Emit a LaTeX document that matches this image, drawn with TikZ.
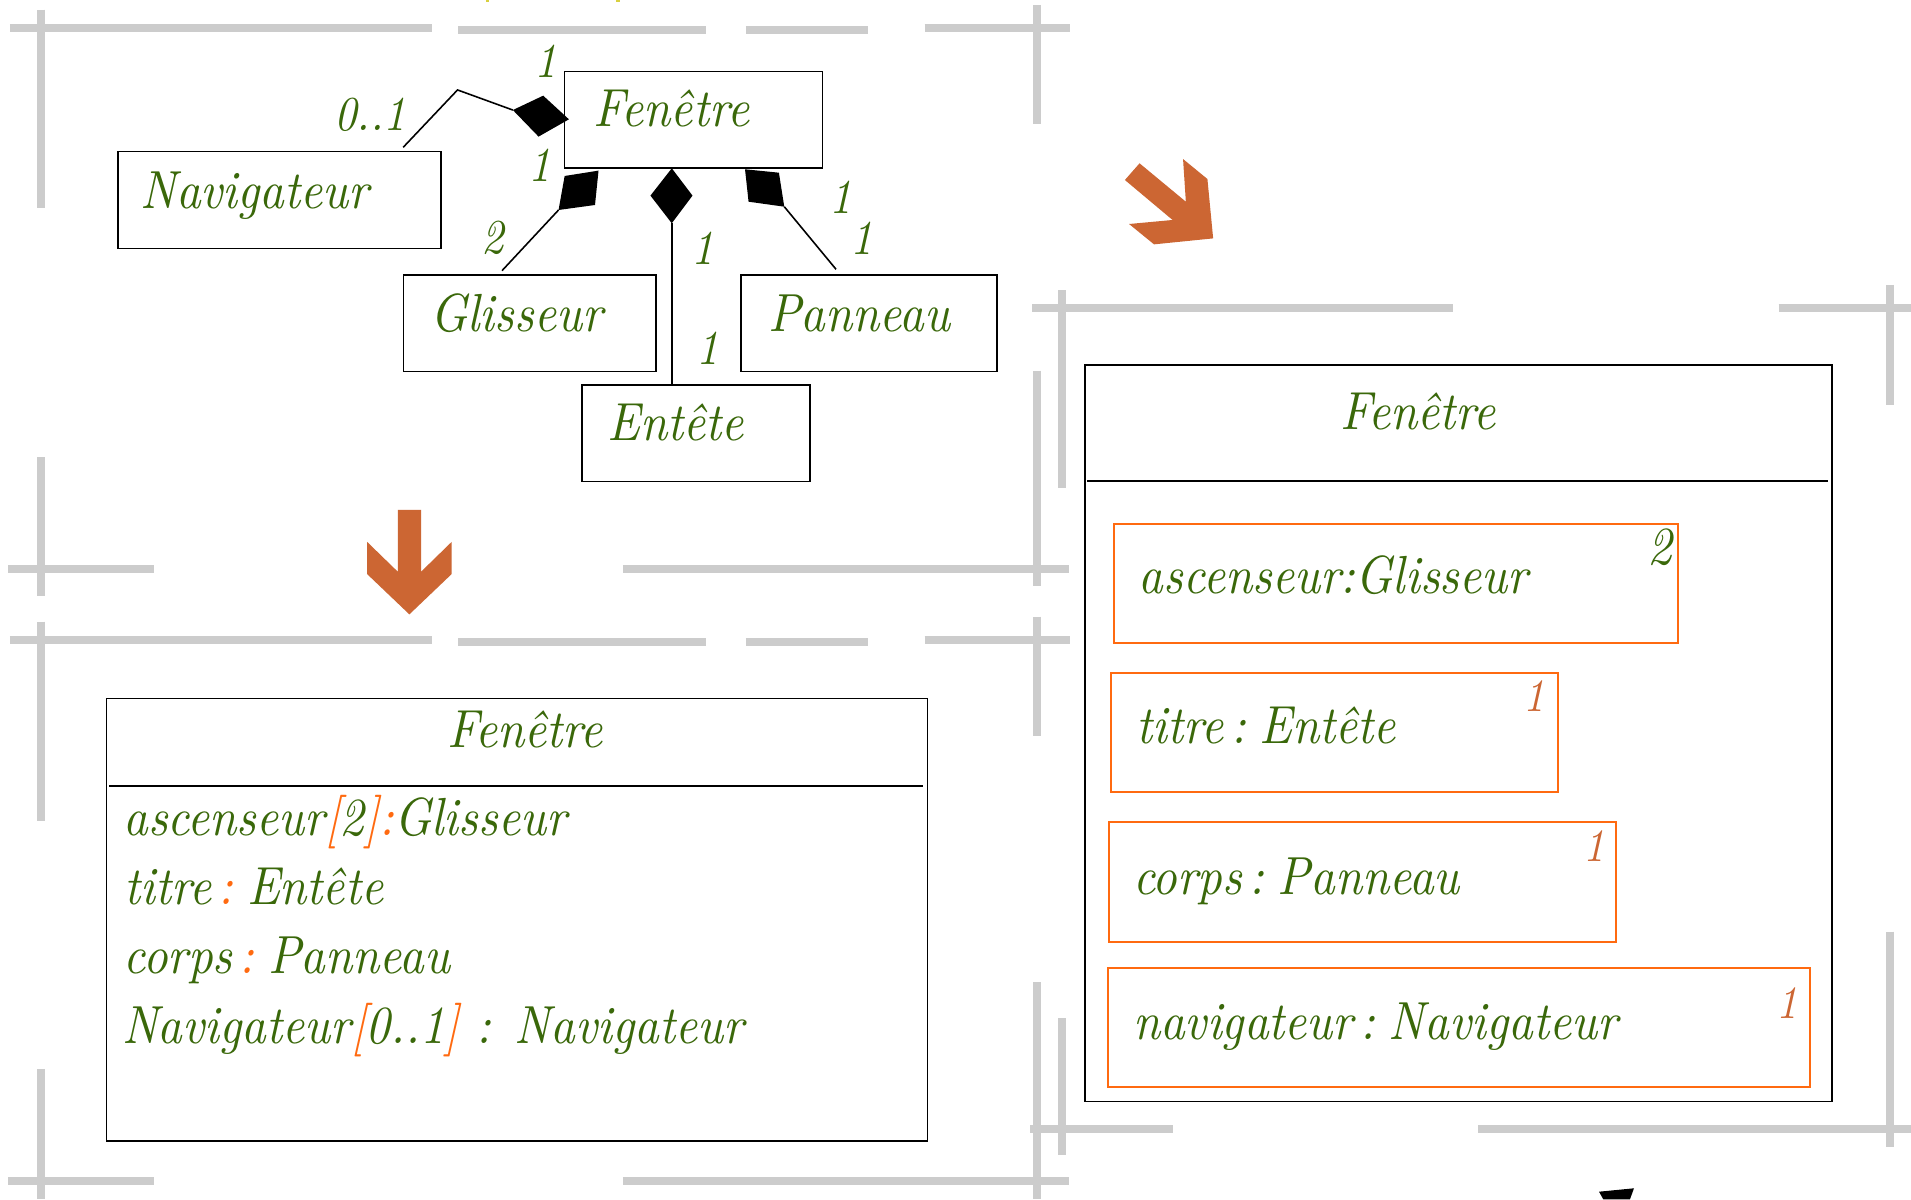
\documentclass[tikz,border=0pt]{standalone}
\usepackage{fontspec}
\setmainfont{lmroman10-regular.otf}[ItalicFont=lmroman10-italic.otf, FakeStretch=0.9]
\definecolor{gridgray}{HTML}{CCCCCC}
\definecolor{txtgreen}{HTML}{3A680A}
\definecolor{partorange}{HTML}{FF6A10}
\definecolor{multbrown}{HTML}{CC6633}
\definecolor{arrowc}{HTML}{CC6633}
\definecolor{markyellow}{HTML}{D8D040}
\tikzset{
  gridline/.style={draw=gridgray, line width=6.5pt},
  umlbox/.style={draw=black, line width=1.4pt, inner sep=0pt, anchor=north west},
  partbox/.style={draw=partorange, line width=1.7pt, inner sep=0pt, anchor=north west},
  cname/.style={text=txtgreen, font=\fontsize{44}{52}\selectfont\itshape, inner sep=0pt, anchor=base west},
  mult/.style={text=txtgreen, font=\fontsize{40}{46}\selectfont\itshape, inner sep=0pt},
  pmult/.style={text=multbrown, font=\fontsize{38}{44}\selectfont\itshape, inner sep=0pt},
  conn/.style={draw=black, line width=1.3pt},
  compo/.style={fill=black},
  bigarrow/.style={fill=arrowc},
}
\newcommand{\orng}[1]{\textcolor{partorange}{#1}}
% tighter spacing around a type colon
\newcommand{\attcolon}[1][black]{\hspace{6pt}#1\hspace{11pt}}
\begin{document}
\begin{tikzpicture}[x=1pt, y=-1pt]
\useasboundingbox (0,0) rectangle (1568,984);
\fill[white] (0,0) rectangle (1568,984);

% ---- grey crop marks ----
\foreach \yy/\dy in {23/1.5, 525/1.8} {
  \draw[gridline] (8,\yy) -- (354.5,\yy);
  \draw[gridline] (376,\yy+\dy) -- (579.5,\yy+\dy);
  \draw[gridline] (612,\yy+\dy) -- (712,\yy+\dy);
  \draw[gridline] (758.7,\yy) -- (878,\yy);
}
\foreach \yy in {466.5, 969} {
  \draw[gridline] (6.7,\yy) -- (126,\yy);
  \draw[gridline] (511,\yy) -- (877,\yy);
}
\draw[gridline] (846.8,252.5) -- (1192,252.5);
\draw[gridline] (1459.4,252.5) -- (1568,252.5);
\draw[gridline] (845.3,926) -- (962.1,926);
\draw[gridline] (1212.8,926) -- (1568,926);
\foreach \ya/\yb in {8/171, 375/489, 510/674, 877/984}
  \draw[gridline] (34,\ya) -- (34,\yb);
\foreach \ya/\yb in {4/102, 304/481, 506/604, 806/984}
  \draw[gridline] (850.5,\ya) -- (850.5,\yb);
\draw[gridline] (871,238) -- (871,400.6);
\draw[gridline] (871,835.6) -- (871,947.6);
\draw[gridline] (1551,233.8) -- (1551,332.3);
\draw[gridline] (1551,764.4) -- (1551,940.8);

% small marks along the top edge
\fill[markyellow] (398.5,0) rectangle (401.5,1.6);
\fill[markyellow] (505.5,0) rectangle (508.5,1.6);

% ---- class diagram ----
\node[umlbox, minimum width=211.6pt, minimum height=79.3pt] (fen) at (462.5,58) {};
\node[umlbox, minimum width=264.9pt, minimum height=79.6pt] (nav) at (96.3,123.6) {};
\node[umlbox, minimum width=207.1pt, minimum height=79.4pt] (gli) at (330.4,224.8) {};
\node[umlbox, minimum width=210pt, minimum height=79.4pt] (pan) at (607.5,224.8) {};
\node[umlbox, minimum width=187pt, minimum height=79.4pt] (ent) at (477,315) {};

\node[cname] (fenT) at (487,104) {Fenêtre};
\node[cname] (navT) at (114.8,171) {Navigateur};
\node[cname] (gliT) at (352.8,272) {Glisseur};
\node[cname] (panT) at (630,272) {Panneau};
\node[cname] (entT) at (498.4,361.6) {Entête};

% composition diamonds
\coordinate (dnL) at (420.8,90.3);  \coordinate (dnT) at (445.7,78.5);
\coordinate (dnR) at (466.8,97.9);  \coordinate (dnB) at (441.9,112.1);
\fill[compo] (dnL) -- (dnT) -- (dnR) -- (dnB) -- cycle;
\coordinate (dgA) at (463.3,144.4); \coordinate (dgB) at (491.1,140);
\coordinate (dgC) at (488.2,168.2); \coordinate (dgD) at (458.3,172.3);
\fill[compo] (dgA) -- (dgB) -- (dgC) -- (dgD) -- cycle;
\coordinate (deT) at (551.2,138.1); \coordinate (deR) at (568.2,160.5);
\coordinate (deB) at (551.2,183.2); \coordinate (deL) at (533.7,160.5);
\fill[compo] (deT) -- (deR) -- (deB) -- (deL) -- cycle;
\coordinate (dpA) at (611.3,138.9); \coordinate (dpB) at (639.1,141.7);
\coordinate (dpC) at (643.5,169.6); \coordinate (dpD) at (614.2,165.5);
\fill[compo] (dpA) -- (dpB) -- (dpC) -- (dpD) -- cycle;

% association lines
\coordinate (navBend) at (375.4,73.8);
\coordinate (navEnd) at (330.8,120.9);
\draw[conn] (dnL) -- (navBend) -- (navEnd);
\coordinate (gliEnd) at (411.9,222.1);
\draw[conn] (dgD) -- (gliEnd);
\coordinate (entEnd) at (551.2,315);
\draw[conn] (deB) -- (entEnd);
\coordinate (panEnd) at (686,221);
\draw[conn] (dpC) -- (panEnd);

% multiplicities
\node[mult] (m1) at (448,50.3) {1};
\node[mult] (m2) at (303.8,94) {0..1};
\node[mult] (m3) at (443,136) {1};
\node[mult] (m4) at (404,195) {2};
\node[mult] (m5) at (576.7,203.5) {1};
\node[mult] (m6) at (581,285.5) {1};
\node[mult] (m7) at (689.6,162) {1};
\node[mult] (m8) at (707,195.8) {1};

% ---- transformation arrows ----
\fill[bigarrow] (326.4,418.3) -- (345.5,418.3) -- (345.5,469.1) -- (370.6,444.6)
  -- (370.6,471) -- (335.9,504.1) -- (301.2,471) -- (301.2,444.6) -- (326.4,469.1) -- cycle;
\fill[bigarrow] (935,134) -- (973,165.5) -- (970.7,130.5) -- (990.7,146.9)
  -- (995.4,195.6) -- (946.9,200.5) -- (926.4,183.8) -- (962.1,180.5) -- (923,147.7) -- cycle;

% ---- class with attributes ----
\node[umlbox, minimum width=673.6pt, minimum height=363pt] (attbox) at (86.8,572.5) {};
\draw[line width=1.8pt] (89.5,645.2) -- (757.7,645.2);
\node[cname] (attT) at (366.8,613.2) {Fenêtre};
\node[cname] (att1) at (101,685.4) {ascenseur\orng{[}2\orng{]:}Glisseur};
\node[cname] (att2) at (102,741.8) {titre\attcolon[\orng{:}]Entête};
\node[cname] (att3) at (101,798.4) {corps\attcolon[\orng{:}]Panneau};
\node[cname] (att4) at (100,855.8) {Navigateur\orng{[}0..1\orng{]} : Navigateur};

% ---- class with parts ----
\node[umlbox, minimum width=612.6pt, minimum height=604.1pt] (partbox) at (889.7,299) {};
\draw[line width=1.8pt] (892,394.7) -- (1499.5,394.7);
\node[cname] (partT) at (1099.5,352.8) {Fenêtre};

\node[partbox, minimum width=462.4pt, minimum height=97.6pt] (p1) at (913.5,429.2) {};
\node[partbox, minimum width=366.2pt, minimum height=97.7pt] (p2) at (911.1,551.1) {};
\node[partbox, minimum width=416.2pt, minimum height=98.1pt] (p3) at (909.2,673.8) {};
\node[partbox, minimum width=576.4pt, minimum height=98pt] (p4) at (908.2,793.4) {};

\node[cname] (p1T) at (934.3,486.8) {ascenseur:Glisseur};
\node[cname] (p2T) at (932.6,610.3) {titre\attcolon[:]Entête};
\node[cname] (p3T) at (929.5,733.8) {corps\attcolon[:]Panneau};
\node[cname] (p4T) at (929.5,853.3) {navigateur\attcolon[:]Navigateur};

\node[mult, font=\fontsize{44}{50}\selectfont\itshape] (p1m) at (1362,448.6) {2};
\node[pmult] (p2m) at (1259,571) {1};
\node[pmult] (p3m) at (1308,694.6) {1};
\node[pmult] (p4m) at (1466.5,822.8) {1};

% diamond tip entering from below
\fill[black] (1312,977.8) -- (1340.7,975) -- (1337.4,984) -- (1315.5,984) -- cycle;
\end{tikzpicture}
\end{document}
